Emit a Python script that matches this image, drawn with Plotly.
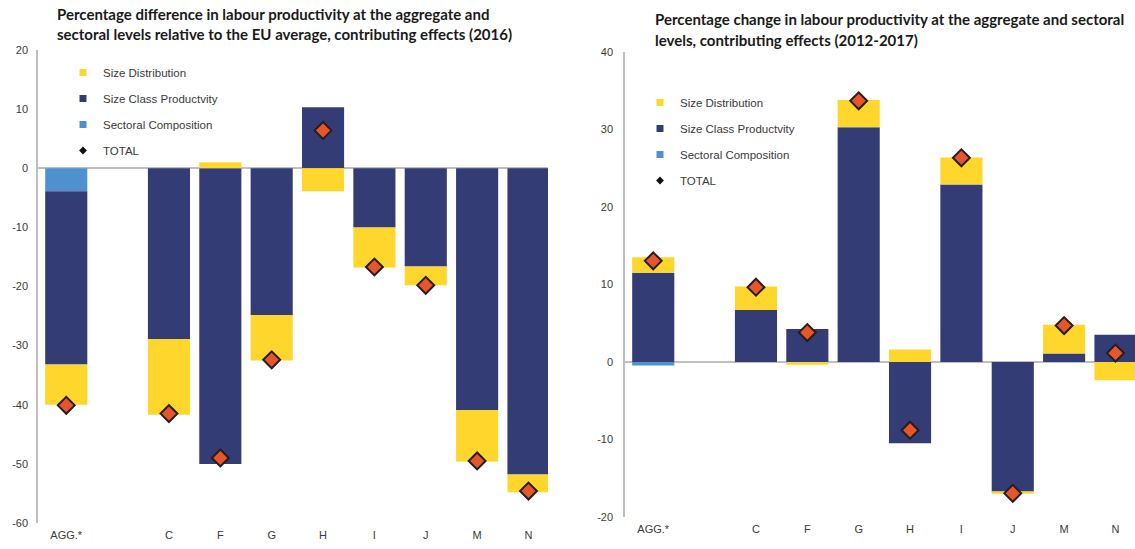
import plotly.graph_objects as go

categories = ["AGG.*", " ", "C", "F", "G", "H", "I", "J", "M", "N"]

# Left chart: 2016 difference relative to EU average
left_sectoral = [-3.9, None, None, None, None, None, None, None, None, None]
left_sizeclass = [-29.3, None, -28.9, -50.0, -24.8, 10.3, -10.0, -16.6, -40.9, -51.8]
left_sizedist = [-6.8, None, -12.8, 1.0, -7.7, -3.9, -6.8, -3.2, -8.7, -3.0]
left_total = [-40.1, None, -41.5, -49.0, -32.4, 6.4, -16.7, -19.8, -49.5, -54.6]
left_ticks = [20, 10, 0, -10, -20, -30, -40, -50, -60]
left_ticktext = ["20", "10", "0", "-10", "-20", "-30", "-40", "-50", "-60"]

# Right chart: 2012-2017 change
right_sectoral = [-0.45, None, None, None, None, None, None, None, None, None]
right_sizeclass = [11.5, None, 6.7, 4.25, 30.3, -10.5, 22.9, -16.7, 1.1, 3.5]
right_sizedist = [2.0, None, 3.05, -0.35, 3.5, 1.6, 3.5, -0.3, 3.7, -2.35]
right_total = [13.05, None, 9.65, 3.8, 33.7, -8.8, 26.35, -16.95, 4.7, 1.15]
right_ticks = [40, 30, 20, 10, 0, -10, -20]
right_ticktext = ["40", "30", "20", "10", "0", "-10", "-20"]

series_names = ["Size Distribution", "Size Class Productvity", "Sectoral Composition", "TOTAL"]

C_YEL = "#FFD62B"
C_NAVY = "#333C74"
C_BLUE = "#4F91CE"
C_DIAM = "#E9552A"
C_OUT = "#231F20"

fig = go.Figure()

def add_chart(xa, ya, sectoral, sizeclass, sizedist, total):
    for vals, col in [(sectoral, C_BLUE), (sizeclass, C_NAVY), (sizedist, C_YEL)]:
        fig.add_trace(go.Bar(x=categories, y=vals, marker=dict(color=col, line=dict(width=0)),
                             xaxis=xa, yaxis=ya, showlegend=False))
    fig.add_trace(go.Scatter(x=categories, y=total, mode="markers",
                             marker=dict(symbol="diamond", size=13, color=C_DIAM,
                                         line=dict(color=C_OUT, width=2)),
                             xaxis=xa, yaxis=ya, showlegend=False))

add_chart("x", "y", left_sectoral, left_sizeclass, left_sizedist, left_total)
add_chart("x2", "y2", right_sectoral, right_sizeclass, right_sizedist, right_total)

# legend entries
def add_legend(leg, xa, ya):
    styles = [("square", 7, C_YEL), ("square", 7, C_NAVY), ("square", 7, C_BLUE), ("diamond", 6, "#111111")]
    for name, (sym, sz, col) in zip(series_names, styles):
        fig.add_trace(go.Scatter(x=[None], y=[None], mode="markers", name=name,
                                 marker=dict(symbol=sym, size=sz, color=col),
                                 xaxis=xa, yaxis=ya, legend=leg, legendgroup=leg + name))

add_legend("legend", "x", "y")
add_legend("legend2", "x2", "y2")

axis_font = dict(family="Liberation Sans, Arial, sans-serif", size=11, color="#3a3a3a")
legend_font = dict(family="Liberation Sans, Arial, sans-serif", size=11.5, color="#3a3a3a")
GRAY = "#BFBFBF"

xcommon = dict(type="category", range=[-0.55, 9.38], showgrid=False, showline=False,
               zeroline=False, ticks="", tickfont=axis_font, fixedrange=True,
               automargin=False, ticklabelstandoff=4,
               categoryorder="array", categoryarray=categories)
ycommon = dict(showgrid=False, showline=True, linecolor=GRAY, linewidth=1.5,
               zeroline=True, zerolinecolor=GRAY, zerolinewidth=1.5, automargin=False,
               ticks="", tickfont=axis_font, layer="above traces", fixedrange=True,
               tickmode="array")
fig.update_layout(
    width=1135, height=549,
    margin=dict(l=0, r=0, t=0, b=0, autoexpand=False),
    paper_bgcolor="white", plot_bgcolor="white",
    barmode="relative", bargap=0.18,
    xaxis=dict(domain=[38 / 1135, 548 / 1135], anchor="y", **xcommon),
    xaxis2=dict(domain=[625 / 1135, 1.0], anchor="y2", **xcommon),
    yaxis=dict(domain=[26 / 549, 499 / 549], range=[-60, 20], anchor="x",
               tickvals=left_ticks, ticktext=left_ticktext,
               ticklabelstandoff=6, **ycommon),
    yaxis2=dict(domain=[32 / 549, 497 / 549], range=[-20, 40], anchor="x2",
                tickvals=right_ticks, ticktext=right_ticktext,
                ticklabelstandoff=8, **ycommon),
    legend=dict(x=63 / 1135, y=1 - 58 / 549, xanchor="left", yanchor="top",
                bgcolor="rgba(0,0,0,0)", font=legend_font, tracegroupgap=7,
                traceorder="grouped"),
    legend2=dict(x=640 / 1135, y=1 - 88 / 549, xanchor="left", yanchor="top",
                 bgcolor="rgba(0,0,0,0)", font=legend_font, tracegroupgap=7,
                 traceorder="grouped"),
    showlegend=True,
)

title_font = dict(family="Lato, sans-serif", size=15, color="#1a1a1a")
titles = [
    (55, 14, "<b>Percentage difference in labour productivity at the aggregate and</b>"),
    (55, 34, "<b>sectoral levels relative to the EU average, contributing effects (2016)</b>"),
    (653, 19, "<b>Percentage change in labour productivity at the aggregate and sectoral</b>"),
    (653, 40, "<b>levels, contributing effects (2012-2017)</b>"),
]
for x, y, t in titles:
    fig.add_annotation(x=x / 1135, y=1 - y / 549, xref="paper", yref="paper", text=t,
                       showarrow=False, xanchor="left", yanchor="middle", font=title_font)

fig.write_html("out.html", config={"displayModeBar": False},
               post_script="document.body.style.margin='0';document.body.style.overflow='hidden';")
